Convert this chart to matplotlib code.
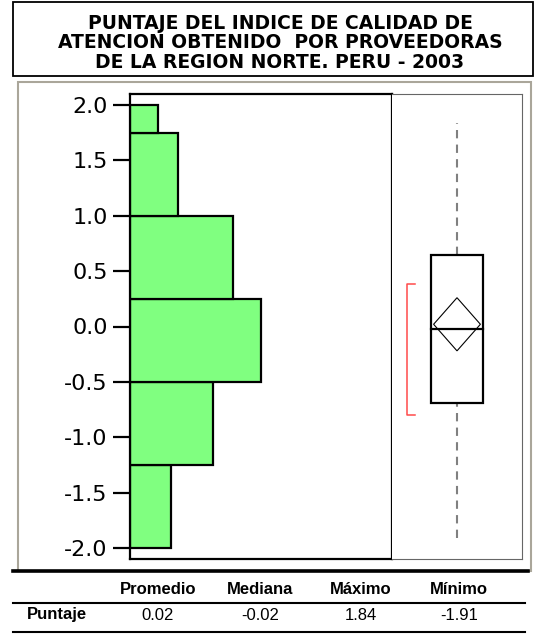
import matplotlib
matplotlib.use("Agg")
import matplotlib.pyplot as plt
from matplotlib.patches import Rectangle, Polygon
from matplotlib.lines import Line2D

# histogram data (horizontal bars)
bin_edges = [-2.0, -1.25, -0.5, 0.25, 1.0, 1.75, 2.0]
counts = [6, 12, 19, 15, 7, 4]

# box plot summary
q1, q3 = -0.69, 0.65
median = -0.02
mean = 0.02
mean_ci = (-0.22, 0.26)
whisker_lo, whisker_hi = -1.91, 1.84
shortest_half = (-0.80, 0.38)

yticks = [2.0, 1.5, 1.0, 0.5, 0.0, -0.5, -1.0, -1.5, -2.0]

# summary table
col_labels = ["Promedio", "Mediana", "Máximo", "Mínimo"]
row_label = "Puntaje"
row_values = ["0.02", "-0.02", "1.84", "-1.91"]

title = "PUNTAJE DEL INDICE DE CALIDAD DE\nATENCION OBTENIDO  POR PROVEEDORAS\nDE LA REGION NORTE. PERU - 2003"

W, H = 535, 636
fig = plt.figure(figsize=(W / 100, H / 100), dpi=100)
plt.rcParams['font.family'] = ['DejaVu Sans']


def fx(px):
    return px / W


def fy(py):
    return 1 - py / H


# title box
fig.patches.append(Rectangle((fx(13), fy(76)), fx(520), 74 / H, transform=fig.transFigure,
                             fill=False, edgecolor='black', linewidth=1.3))
fig.text(fx(280), fy(43), title, ha='center', va='center', fontsize=13.5,
         fontweight='bold', linespacing=1.05, family='DejaVu Sans')

# grey chart frame
fig.patches.append(Rectangle((fx(18), fy(571)), fx(513), 489 / H, transform=fig.transFigure,
                             fill=False, edgecolor='#aaa69a', linewidth=1.5))

# histogram
ax = fig.add_axes([fx(130), fy(559), fx(262), 465 / H])
heights = [bin_edges[i + 1] - bin_edges[i] for i in range(len(counts))]
ax.barh(bin_edges[:-1], counts, height=heights, left=0, align='edge',
        color='#80ff80', edgecolor='black', linewidth=1.6)
ax.set_ylim(-2.1, 2.1)
ax.set_xlim(0, 38)
ax.set_yticks(yticks)
ax.set_yticklabels([f"{t:.1f}" for t in yticks], fontsize=16)
ax.tick_params(axis='y', length=12, width=1.6, pad=4)
ax.set_xticks([])
for s in ax.spines.values():
    s.set_linewidth(1.6)

# box plot panel
bx = fig.add_axes([fx(392), fy(559), fx(130), 465 / H])
bx.set_ylim(-2.1, 2.1)
bx.set_xlim(0, 1)
bx.set_xticks([])
bx.set_yticks([])
bx.spines['left'].set_visible(False)
for side in ['top', 'right', 'bottom']:
    bx.spines[side].set_color('#666666')
    bx.spines[side].set_linewidth(0.8)

cx, half_w = 0.5, 0.2
bx.plot([cx, cx], [q3, whisker_hi], color='#808080', linestyle=(0, (4, 3)), linewidth=1.5)
bx.plot([cx, cx], [whisker_lo, q1], color='#808080', linestyle=(0, (4, 3)), linewidth=1.5)
bx.add_patch(Rectangle((cx - half_w, q1), 2 * half_w, q3 - q1, fill=True,
                       facecolor='white', edgecolor='black', linewidth=1.6, zorder=3))
bx.plot([cx - half_w, cx + half_w], [median, median], color='black', linewidth=1.6, zorder=4)
bx.add_patch(Polygon([(cx, mean_ci[1]), (cx + half_w - 0.02, mean), (cx, mean_ci[0]),
                      (cx - half_w + 0.02, mean)], closed=True, fill=False,
                     edgecolor='black', linewidth=0.8, zorder=4))
bx.plot([0.177, 0.113, 0.113, 0.177], [shortest_half[1], shortest_half[1],
                                       shortest_half[0], shortest_half[0]],
        color='#ff4a4a', linewidth=1.1)

# summary table
fig.lines.append(Line2D([fx(13), fx(528)], [fy(571), fy(571)], transform=fig.transFigure,
                        color='black', linewidth=2.6))
fig.lines.append(Line2D([fx(13), fx(525)], [fy(603), fy(603)], transform=fig.transFigure,
                        color='black', linewidth=1.5))
fig.lines.append(Line2D([fx(13), fx(525)], [fy(632), fy(632)], transform=fig.transFigure,
                        color='black', linewidth=1.5))

tfont = ['Liberation Sans', 'DejaVu Sans']
col_x = [158, 260, 361, 459]
for x, lab in zip(col_x, col_labels):
    fig.text(fx(x), fy(589), lab, ha='center', va='center', fontsize=12,
             fontweight='bold', family=tfont)
fig.text(fx(57), fy(615), row_label, ha='center', va='center', fontsize=12,
         fontweight='bold', family=tfont)
for x, val in zip(col_x, row_values):
    fig.text(fx(x), fy(615), val, ha='center', va='center', fontsize=12, family=tfont)

fig.savefig("out.png", dpi=100)
